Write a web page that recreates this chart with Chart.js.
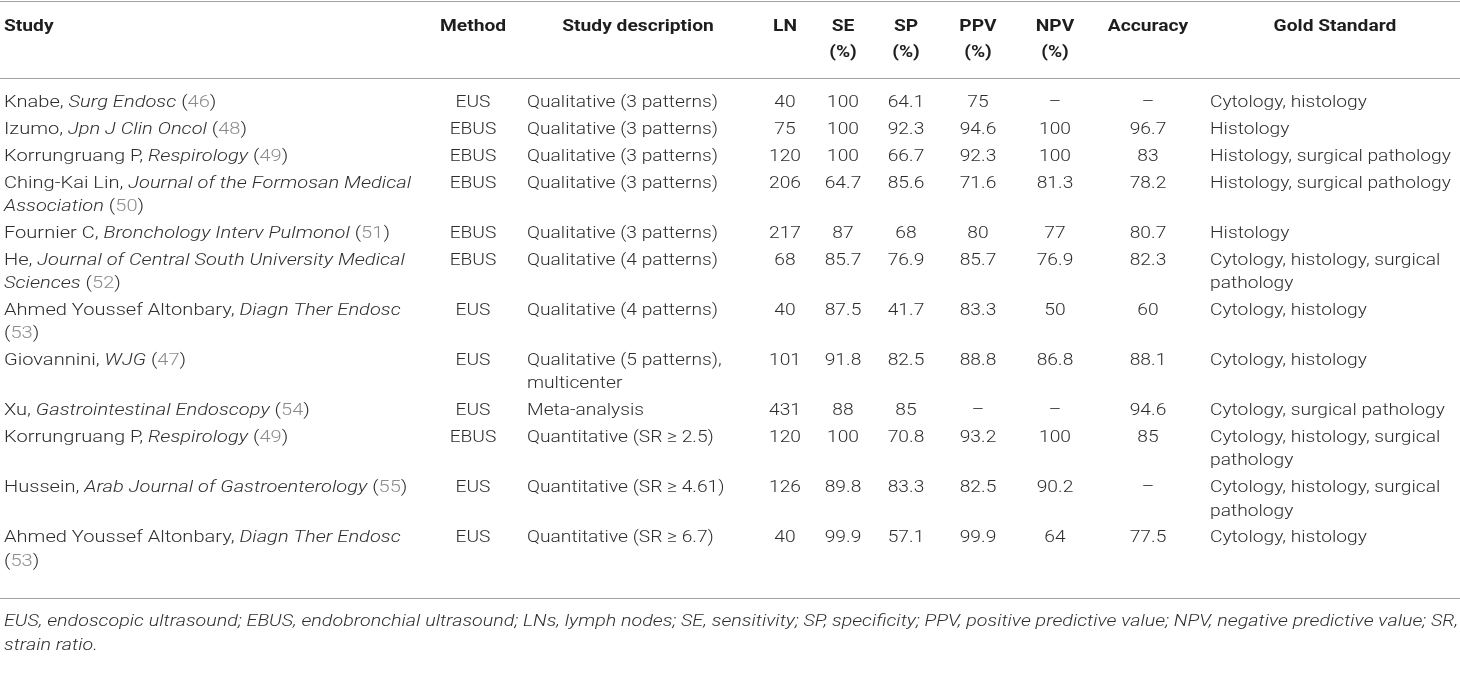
<!DOCTYPE html>
<html>
<head>
<meta charset="utf-8">
<script src="https://cdn.jsdelivr.net/npm/chart.js@4.4.0/dist/chart.umd.min.js"></script>
<style>
  html, body { margin: 0; padding: 0; background: #fff; }
  #wrap { width: 1460px; height: 675px; }
</style>
</head>
<body>
<div id="wrap"><canvas id="tabla" width="1460" height="675"></canvas></div>
<script>
// Datos de la tabla
const encabezados = [["Study"], ["Method"], ["Study description"], ["LN"], ["SE", "(%)"], ["SP", "(%)"], ["PPV", "(%)"], ["NPV", "(%)"], ["Accuracy"], ["Gold Standard"]];
const autores = ["Knabe", "Izumo", "Korrungruang P", "Ching-Kai Lin", "Fournier C", "He", "Ahmed Youssef Altonbary", "Giovannini", "Xu", "Korrungruang P", "Hussein", "Ahmed Youssef Altonbary"];
const revistas = ["Surg Endosc", "Jpn J Clin Oncol", "Respirology", "Journal of the Formosan Medical Association", "Bronchology Interv Pulmonol", "Journal of Central South University Medical Sciences", "Diagn Ther Endosc", "WJG", "Gastrointestinal Endoscopy", "Respirology", "Arab Journal of Gastroenterology", "Diagn Ther Endosc"];
const referencias = [46, 48, 49, 50, 51, 52, 53, 47, 54, 49, 55, 53];
const metodos = ["EUS", "EBUS", "EBUS", "EBUS", "EBUS", "EBUS", "EUS", "EUS", "EUS", "EBUS", "EUS", "EUS"];
const descripciones = ["Qualitative (3 patterns)", "Qualitative (3 patterns)", "Qualitative (3 patterns)", "Qualitative (3 patterns)", "Qualitative (3 patterns)", "Qualitative (4 patterns)", "Qualitative (4 patterns)", "Qualitative (5 patterns), multicenter", "Meta-analysis", "Quantitative (SR \u2265 2.5)", "Quantitative (SR \u2265 4.61)", "Quantitative (SR \u2265 6.7)"];
const ln = [40, 75, 120, 206, 217, 68, 40, 101, 431, 120, 126, 40];
const se = [100, 100, 100, 64.7, 87, 85.7, 87.5, 91.8, 88, 100, 89.8, 99.9];
const sp = [64.1, 92.3, 66.7, 85.6, 68, 76.9, 41.7, 82.5, 85, 70.8, 83.3, 57.1];
const ppv = [75, 94.6, 92.3, 71.6, 80, 85.7, 83.3, 88.8, null, 93.2, 82.5, 99.9];
const npv = [null, 100, 100, 81.3, 77, 76.9, 50, 86.8, null, 100, 90.2, 64];
const exactitud = [null, 96.7, 83, 78.2, 80.7, 82.3, 60, 88.1, 94.6, 85, null, 77.5];
const estandar = ["Cytology, histology", "Histology", "Histology, surgical pathology", "Histology, surgical pathology", "Histology", "Cytology, histology, surgical pathology", "Cytology, histology", "Cytology, histology", "Cytology, surgical pathology", "Cytology, histology, surgical pathology", "Cytology, histology, surgical pathology", "Cytology, histology"];
const nota = "EUS, endoscopic ultrasound; EBUS, endobronchial ultrasound; LNs, lymph nodes; SE, sensitivity; SP, specificity; PPV, positive predictive value; NPV, negative predictive value; SR, strain ratio.";

// Diseño: columnas (x = ancla, w = ancho maximo para cortar lineas, k = ajuste de ancho del texto)
const columnas = [
  { x: 4, align: "left", w: 425, hx: 4, halign: "left", k: 1.045 },
  { x: 473, align: "center" },
  { x: 527, align: "left", w: 215, hx: 638, halign: "center" },
  { x: 785, align: "center" },
  { x: 843, align: "center" },
  { x: 906, align: "center" },
  { x: 978, align: "center" },
  { x: 1055, align: "center" },
  { x: 1148, align: "center" },
  { x: 1210, align: "left", w: 248, hx: 1335, halign: "center" }
];
const FAM = "Roboto, 'Liberation Sans', Arial, sans-serif";
const FS = 17;
const fuentes = {
  n: `300 ${FS}px ${FAM}`,
  i: `italic 300 ${FS}px ${FAM}`,
  g: `300 ${FS}px ${FAM}`,
  b: `bold ${FS}px ${FAM}`
};
const colores = { n: "#2e2e2e", i: "#2e2e2e", g: "#8c8c8c", b: "#1e1e1e" };

const fmt = (v) => (v === null ? "\u2013" : String(v));

// separa los segmentos en palabras (cada palabra puede tener varios estilos)
function palabras(segs) {
  const out = [];
  let cur = [];
  segs.forEach((s) => {
    s.t.split(" ").forEach((p, i) => {
      if (i > 0) { if (cur.length) out.push(cur); cur = []; }
      if (p) cur.push({ t: p, s: s.s });
    });
  });
  if (cur.length) out.push(cur);
  return out;
}

function ancho(ctx, piezas, sx) {
  let w = 0;
  piezas.forEach((p) => { ctx.font = fuentes[p.s]; w += ctx.measureText(p.t).width; });
  return w * sx;
}

function cortar(ctx, segs, maxW, sx) {
  const ws = palabras(segs);
  ctx.font = fuentes.n;
  const esp = ctx.measureText(" ").width * sx;
  const lineas = [];
  let linea = [], w = 0;
  ws.forEach((pal) => {
    const pw = ancho(ctx, pal, sx);
    if (linea.length && w + esp + pw > maxW) { lineas.push(linea); linea = []; w = 0; }
    w += (linea.length ? esp : 0) + pw;
    linea.push(pal);
  });
  if (linea.length) lineas.push(linea);
  return lineas;
}

function dibujarLinea(ctx, linea, x, y, align, sx) {
  ctx.font = fuentes.n;
  const esp = ctx.measureText(" ").width * sx;
  let total = 0;
  linea.forEach((pal, k) => { total += ancho(ctx, pal, sx) + (k ? esp : 0); });
  let cx = align === "center" ? x - total / 2 : x;
  linea.forEach((pal, k) => {
    if (k) cx += esp;
    pal.forEach((p) => {
      ctx.font = fuentes[p.s];
      ctx.fillStyle = colores[p.s];
      ctx.save();
      ctx.translate(cx, y);
      ctx.scale(sx, 1);
      ctx.fillText(p.t, 0, 0);
      ctx.restore();
      cx += ctx.measureText(p.t).width * sx;
    });
  });
}

const tablaPlugin = {
  id: "tabla",
  afterDraw(chart) {
    const ctx = chart.ctx;
    const X = chart.scales.x, Y = chart.scales.y;
    ctx.save();
    ctx.textBaseline = "middle";
    ctx.textAlign = "left";
    // calibrar ancho horizontal con el texto de referencia
    ctx.font = fuentes.n;
    const sx = 191 / ctx.measureText("Qualitative (3 patterns)").width;

    // lineas horizontales
    ctx.strokeStyle = "#a3a3a3";
    ctx.lineWidth = 1;
    [1.5, 78.5, 598.5].forEach((v) => {
      ctx.beginPath();
      ctx.moveTo(X.getPixelForValue(0), Y.getPixelForValue(v));
      ctx.lineTo(X.getPixelForValue(1460), Y.getPixelForValue(v));
      ctx.stroke();
    });

    // encabezados
    encabezados.forEach((h, c) => {
      const col = columnas[c];
      const hx = col.hx !== undefined ? col.hx : col.x;
      const al = col.halign || col.align;
      h.forEach((t, k) => {
        dibujarLinea(ctx, [[{ t: t, s: "b" }]], X.getPixelForValue(hx), Y.getPixelForValue(27 + k * 26), al, sx);
      });
    });

    // filas
    let yFila = 103;
    autores.forEach((a, r) => {
      const celdas = [
        [{ t: a + ", ", s: "n" }, { t: revistas[r], s: "i" }, { t: " (", s: "n" }, { t: String(referencias[r]), s: "g" }, { t: ")", s: "n" }],
        [{ t: metodos[r], s: "n" }],
        [{ t: descripciones[r], s: "n" }],
        [{ t: fmt(ln[r]), s: "n" }],
        [{ t: fmt(se[r]), s: "n" }],
        [{ t: fmt(sp[r]), s: "n" }],
        [{ t: fmt(ppv[r]), s: "n" }],
        [{ t: fmt(npv[r]), s: "n" }],
        [{ t: fmt(exactitud[r]), s: "n" }],
        [{ t: estandar[r], s: "n" }]
      ];
      let maxL = 1;
      celdas.forEach((segs, c) => {
        const col = columnas[c];
        const sxc = sx * (col.k || 1);
        const lineas = col.w ? cortar(ctx, segs, col.w, sxc) : [palabras(segs)];
        maxL = Math.max(maxL, lineas.length);
        lineas.forEach((lin, k) => {
          dibujarLinea(ctx, lin, X.getPixelForValue(col.x), Y.getPixelForValue(yFila + k * 23.4), col.align, sxc);
        });
      });
      yFila += (maxL - 1) * 23.4 + 26.8;
    });

    // nota al pie
    const sxn = sx * 1.025;
    const notaLineas = cortar(ctx, [{ t: nota, s: "i" }], 1456, sxn);
    notaLineas.forEach((lin, k) => {
      dibujarLinea(ctx, lin, X.getPixelForValue(4), Y.getPixelForValue(622 + k * 23.4), "left", sxn);
    });
    ctx.restore();
  }
};

new Chart(document.getElementById("tabla").getContext("2d"), {
  type: "scatter",
  data: { datasets: [{ data: [], pointRadius: 0 }] },
  options: {
    responsive: false,
    animation: false,
    layout: { padding: 0 },
    plugins: { legend: { display: false }, tooltip: { enabled: false } },
    scales: {
      x: { type: "linear", min: 0, max: 1460, display: false },
      y: { type: "linear", min: 0, max: 675, reverse: true, display: false }
    }
  },
  plugins: [tablaPlugin]
});
</script>
</body>
</html>
